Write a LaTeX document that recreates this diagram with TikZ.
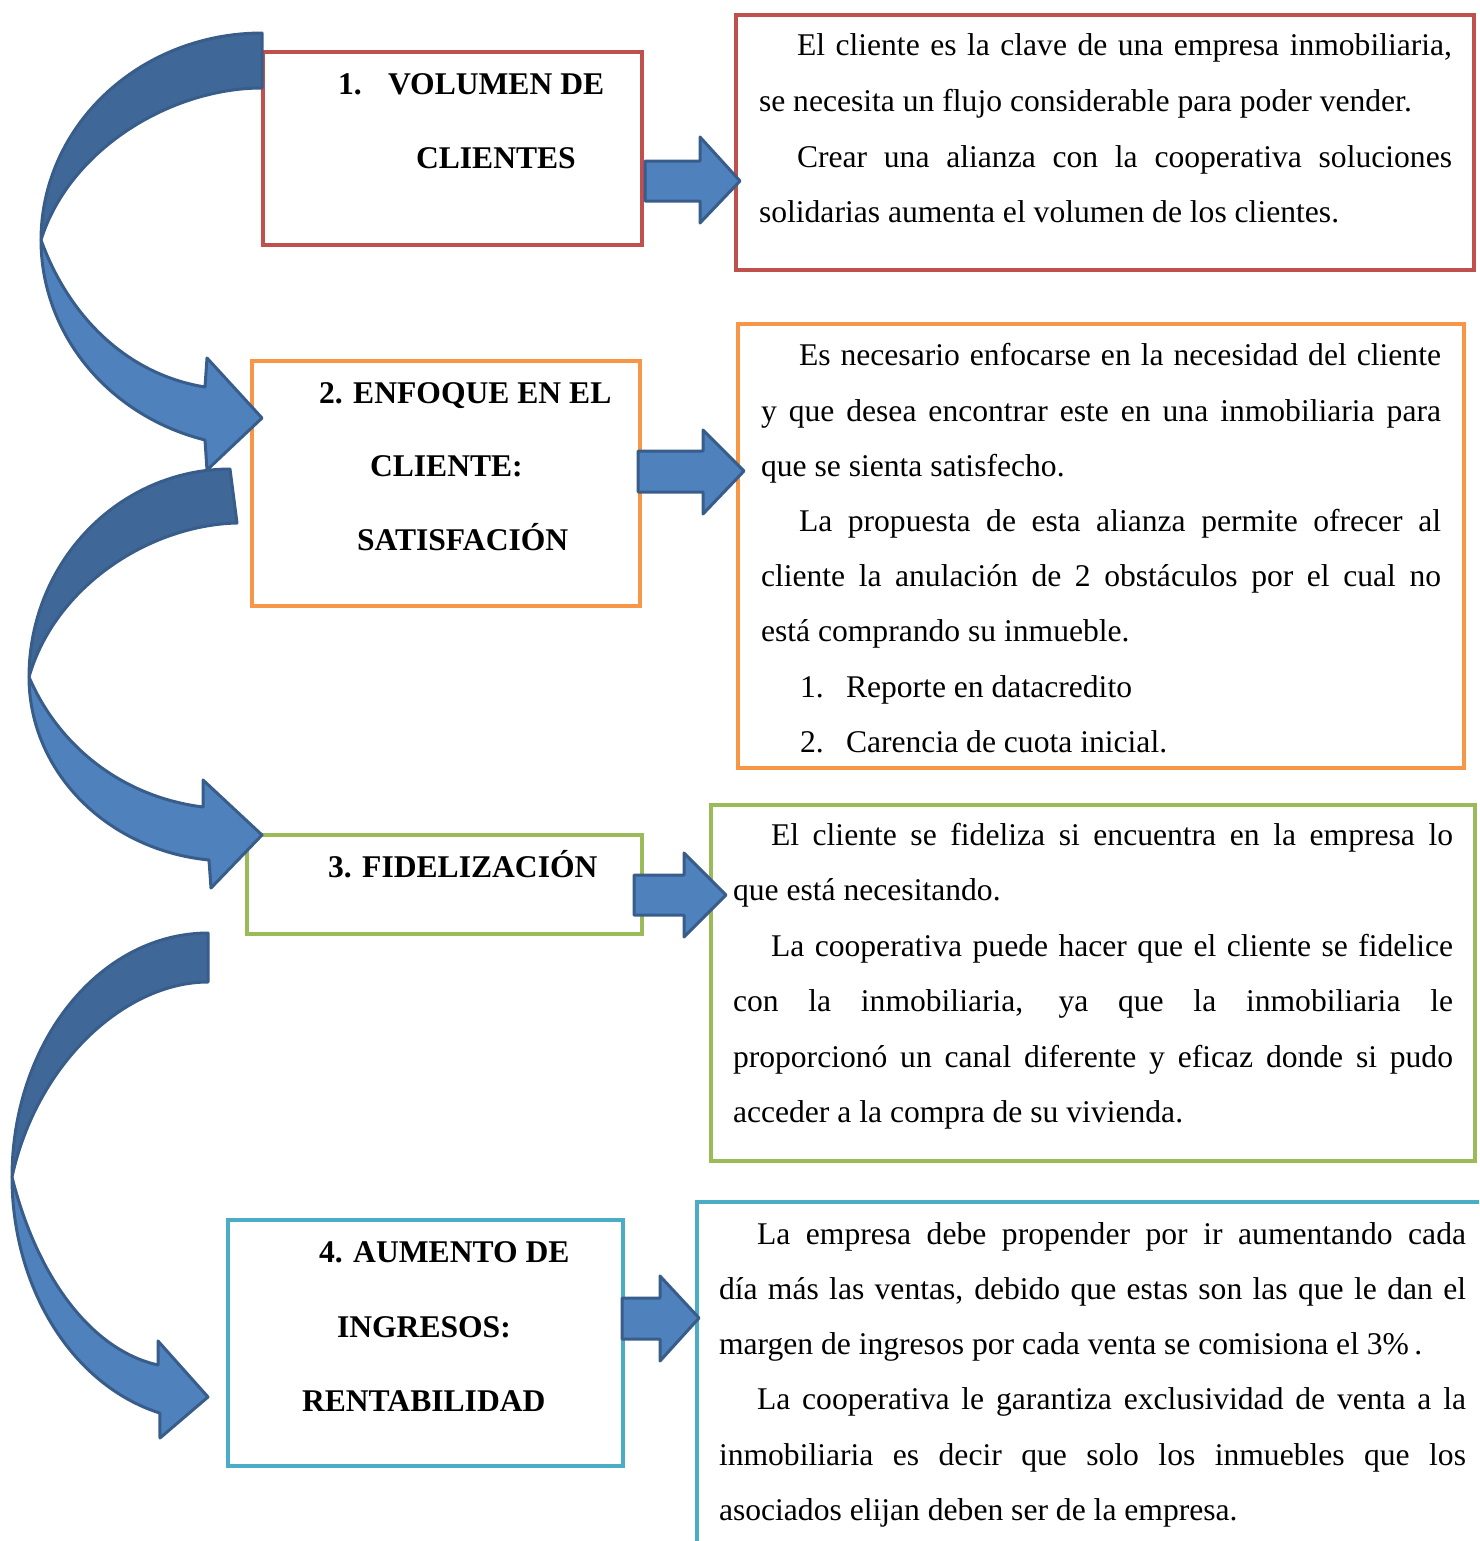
\documentclass[tikz,border=0pt]{standalone}
\usepackage{fontspec}
\setmainfont{Liberation Serif}
\usetikzlibrary{fit}
\newlength\px \setlength\px{0.5pt}
\definecolor{bRed}{HTML}{C0504D}
\definecolor{bOrange}{HTML}{F79646}
\definecolor{bGreen}{HTML}{9BBB59}
\definecolor{bTeal}{HTML}{4BACC6}
\definecolor{aLight}{HTML}{4F81BD}
\definecolor{aDark}{HTML}{3F6797}
\definecolor{aLine}{HTML}{385D8A}
\tikzset{
  frame/.style={draw=#1, line width=2pt, inner sep=0pt, outer sep=0pt, rectangle},
  txt/.style={inner sep=0pt, outer sep=0pt, font=\fontsize{15.8}{27.5}\selectfont},
  headtxt/.style={inner sep=0pt, outer sep=0pt, font=\fontsize{15.8}{27.5}\selectfont\bfseries},
  arrowfront/.style={fill=aLight, draw=aLine, line width=1.5pt, line join=round},
  arrowback/.style={fill=aDark, draw=aLine, line width=1.5pt, line join=round},
}
\newcommand\jl[4]{\node[txt,anchor=base west] (#1) at (#2) {\makebox[#3\px][s]{#4}};}
\newcommand\nl[3]{\node[txt,anchor=base west] (#1) at (#2) {#3};}
\newcommand\hl[3]{\node[headtxt,anchor=base west] (#1) at (#2) {#3};}
\begin{document}
\begin{tikzpicture}[x=0.5pt,y=-0.5pt]
\useasboundingbox (0,0) rectangle (1479,1541);
\clip (0,0) rectangle (1479,1541);

% boxes
\node[frame=bRed, fit={(263,52) (642,245)}] (L1) {};
\node[frame=bRed, fit={(736,15) (1474,270)}] (R1) {};
\node[frame=bOrange, fit={(252,361) (640,606)}] (L2) {};
\node[frame=bOrange, fit={(738,324) (1464,768)}] (R2) {};
\node[frame=bGreen, fit={(247,835) (642,934)}] (L3) {};
\node[frame=bGreen, fit={(711,805) (1475,1161)}] (R3) {};
\node[frame=bTeal, fit={(228,1220) (623,1466)}] (L4) {};
\node[frame=bTeal, fit={(697,1202) (1520,1600)}] (R4) {};

% left titles
\hl{t1a}{338,95}{1.}
\hl{t1b}{388,95}{VOLUMEN DE}
\hl{t1c}{416,169}{CLIENTES}
\hl{t2a}{319,403}{2. ENFOQUE EN EL}
\hl{t2b}{370,476}{CLIENTE:}
\hl{t2c}{357,550}{SATISFACIÓN}
\hl{t3a}{328,877}{3. FIDELIZACIÓN}
\hl{t4a}{319,1262}{4. AUMENTO DE}
\hl{t4b}{337,1337}{INGRESOS:}
\hl{t4c}{302,1411}{RENTABILIDAD}

% right texts
\jl{r1a}{797,56}{655}{El cliente es la clave de una empresa inmobiliaria,}
\nl{r1b}{759,111.5}{se necesita un flujo considerable para poder vender.}
\jl{r1c}{797,167}{655}{Crear una alianza con la cooperativa soluciones}
\nl{r1d}{759,222.5}{solidarias aumenta el volumen de los clientes.}

\jl{r2a}{799,365}{642}{Es necesario enfocarse en la necesidad del cliente}
\jl{r2b}{761,421}{680}{y que desea encontrar este en una inmobiliaria para}
\nl{r2c}{761,476}{que se sienta satisfecho.}
\jl{r2d}{799,531}{642}{La propuesta de esta alianza permite ofrecer al}
\jl{r2e}{761,586}{680}{cliente la anulación de 2 obstáculos por el cual no}
\nl{r2f}{761,641}{está comprando su inmueble.}
\nl{r2g}{800,697}{1.}
\nl{r2h}{846,697}{Reporte en datacredito}
\nl{r2i}{800,752}{2.}
\nl{r2j}{846,752}{Carencia de cuota inicial.}

\jl{r3a}{771,845}{682}{El cliente se fideliza si encuentra en la empresa lo}
\nl{r3b}{733,900}{que está necesitando.}
\jl{r3c}{771,956}{682}{La cooperativa puede hacer que el cliente se fidelice}
\jl{r3d}{733,1011}{720}{con la inmobiliaria, ya que la inmobiliaria le}
\jl{r3e}{733,1067}{720}{proporcionó un canal diferente y eficaz donde si pudo}
\nl{r3f}{733,1122}{acceder a la compra de su vivienda.}

\jl{r4a}{757,1244}{709}{La empresa debe propender por ir aumentando cada}
\jl{r4b}{719,1299}{747}{día más las ventas, debido que estas son las que le dan el}
\nl{r4c}{719,1354}{margen de ingresos por cada venta se comisiona el 3\%\,.}
\jl{r4d}{757,1409}{709}{La cooperativa le garantiza exclusividad de venta a la}
\jl{r4e}{719,1465}{747}{inmobiliaria es decir que solo los inmuebles que los}
\nl{r4f}{719,1520}{asociados elijan deben ser de la empresa.}

% straight block arrows
\draw[arrowfront] (645,161) -- (700,161) -- (700,137) -- (740,181) -- (700,223) -- (700,201) -- (645,201) -- cycle;
\draw[arrowfront] (638,451) -- (703,451) -- (703,430) -- (744,471) -- (703,514) -- (703,492) -- (638,492) -- cycle;
\draw[arrowfront] (634,875) -- (684,875) -- (684,853) -- (726,895) -- (684,937) -- (684,915) -- (634,915) -- cycle;
\draw[arrowfront] (622,1298) -- (660,1298) -- (660,1276) -- (699,1318) -- (660,1361) -- (660,1339) -- (622,1339) -- cycle;

% curved arrow 1
\draw[arrowback] (262,33) -- plot[domain=90:0,samples=50] ({41+221*(1-cos(\x))},{240-207*sin(\x)})
  .. controls (69,150) and (170,88) .. (262,88) -- cycle;
\draw[arrowfront] (41,240) -- plot[domain=0:75.05,samples=50] ({41+221*(1-cos(\x))},{240+207*sin(\x)})
  -- (207,470) -- (262,418) -- (207,358) -- (205,387)
  .. controls (130,375) and (70,320) .. (41,240) -- cycle;

% curved arrow 2
\draw[arrowback] (230,469) -- plot[domain=90:0,samples=50] ({29+201*(1-cos(\x))},{677-208*sin(\x)})
  .. controls (55,586) and (150,525) .. (237,523) -- cycle;
\draw[arrowfront] (29,677) -- plot[domain=0:84,samples=50] ({29+201*(1-cos(\x))},{677+184*sin(\x)})
  -- (211,888) -- (262,835) -- (203,780) -- (203,807)
  .. controls (123,797) and (59,747) .. (29,677) -- cycle;

% curved arrow 3
\draw[arrowback] (208,933) -- plot[domain=90:0,samples=50] ({12+196*(1-cos(\x))},{1177-244*sin(\x)})
  .. controls (37,1062) and (126,982) .. (208,982) -- cycle;
\draw[arrowfront] (12,1177) -- plot[domain=0:75.8,samples=50] ({12+196*(1-cos(\x))},{1177+243.5*sin(\x)})
  -- (160,1438) -- (208,1397) -- (158,1341) -- (158,1365)
  .. controls (91,1350) and (37,1277) .. (12,1177) -- cycle;
\end{tikzpicture}
\end{document}
